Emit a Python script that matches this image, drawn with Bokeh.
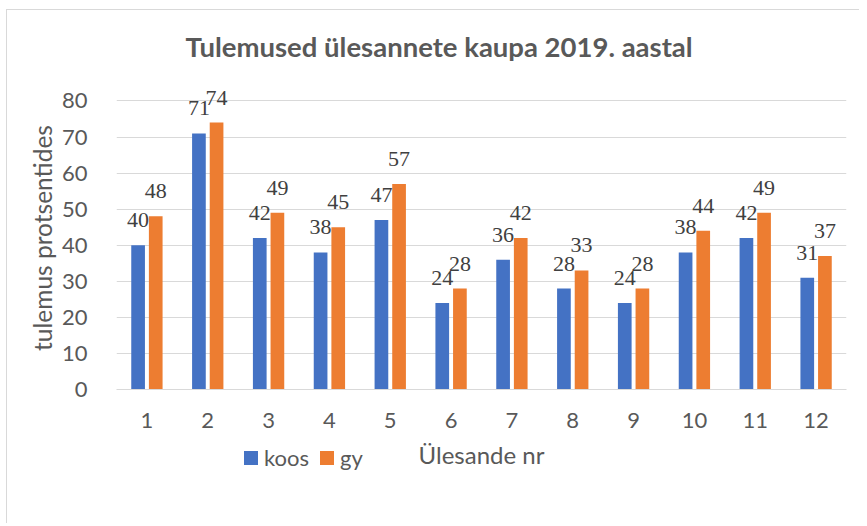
from bokeh.plotting import figure
from bokeh.layouts import column
from bokeh.models import (ColumnDataSource, Range1d, FactorRange, LabelSet, FixedTicker, Div)
from bokeh.transform import dodge
from bokeh.embed import file_html
from bokeh.resources import INLINE

# ---- data ----
categories = [str(i) for i in range(1, 13)]
koos = [40, 71, 42, 38, 47, 24, 36, 28, 24, 38, 42, 31]
gy = [48, 74, 49, 45, 57, 28, 42, 33, 28, 44, 49, 37]
y_ticks = [0, 10, 20, 30, 40, 50, 60, 70, 80]

title_text = "Tulemused ülesannete kaupa 2019. aastal"
y_title = "tulemus protsentides"
x_title = "Ülesande nr"
series_names = ["koos", "gy"]

BLUE = "#4472C4"
ORANGE = "#ED7D31"
TEXT = "#595959"
LABEL = "#404040"
GRID = "#D9D9D9"
FONT = "Lato"

src = ColumnDataSource(dict(
    cat=categories, koos=koos, gy=gy,
    koos_txt=[str(v) for v in koos], gy_txt=[str(v) for v in gy],
))

p = figure(
    width=852, height=514,
    x_range=FactorRange(*categories), y_range=Range1d(0, 84),
    output_backend="svg", toolbar_location=None,
    min_border_left=109, min_border_right=13,
    min_border_top=83, min_border_bottom=128,
    margin=(-7, 0, 0, 0),
)
p.outline_line_color = None
p.background_fill_color = "white"
p.border_fill_color = None

# title
p.title.text = title_text
p.title.align = "left"
p.title.offset = 69
p.title.text_font = FONT
p.title.text_font_size = "27.5px"
p.title.text_font_style = "bold"
p.title.text_color = TEXT
p.title.standoff = 47

w = 0.225
r1 = p.vbar(x=dodge("cat", -0.145, range=p.x_range), top="koos", width=w,
            source=src, color=BLUE, line_color=None)
r2 = p.vbar(x=dodge("cat", 0.145, range=p.x_range), top="gy", width=w,
            source=src, color=ORANGE, line_color=None)

for col, off in (("koos", -0.145), ("gy", 0.145)):
    ls = LabelSet(x=dodge("cat", off, range=p.x_range), y=col, text=col + "_txt",
                  source=src, text_align="center", text_baseline="alphabetic",
                  y_offset=18, text_font=FONT, text_font_size="22px",
                  text_color=LABEL)
    p.add_layout(ls)

# y axis
p.yaxis.ticker = FixedTicker(ticks=y_ticks)
p.yaxis.axis_line_color = None
p.yaxis.major_tick_line_color = None
p.yaxis.minor_tick_line_color = None
p.yaxis.major_label_standoff = 23
p.yaxis.major_label_text_font = FONT
p.yaxis.major_label_text_font_size = "22px"
p.yaxis.major_label_text_color = TEXT
p.yaxis.axis_label = y_title
p.yaxis.axis_label_text_font = FONT
p.yaxis.axis_label_text_font_size = "24.5px"
p.yaxis.axis_label_text_font_style = "normal"
p.yaxis.axis_label_text_color = TEXT
p.yaxis.axis_label_standoff = 2

p.ygrid.ticker = FixedTicker(ticks=y_ticks)
p.ygrid.grid_line_color = GRID
p.ygrid.grid_line_width = 1
p.xgrid.grid_line_color = None

# x axis
p.xaxis.axis_line_color = GRID
p.xaxis.axis_line_width = 1
p.xaxis.major_tick_line_color = None
p.xaxis.minor_tick_line_color = None
p.xaxis.major_label_standoff = 17
p.xaxis.major_label_text_font = FONT
p.xaxis.major_label_text_font_size = "22px"
p.xaxis.major_label_text_color = TEXT
p.xaxis.axis_label = x_title
p.xaxis.axis_label_text_font = FONT
p.xaxis.axis_label_text_font_size = "24px"
p.xaxis.axis_label_text_font_style = "normal"
p.xaxis.axis_label_text_color = TEXT
p.xaxis.axis_label_standoff = 9
p.x_range.range_padding = 0

# legend row (series colour keys)
def key(color, name, left):
    return (f'<span style="display:inline-block;width:14px;height:14px;'
            f'background:{color};margin-left:{left}px;margin-right:6px;"></span>'
            f'<span>{name}</span>')

legend_html = (
    f'<div style="display:flex;align-items:center;height:30px;font-family:{FONT};'
    f'font-size:22px;color:{TEXT};white-space:nowrap;">'
    + key(BLUE, series_names[0], 0) + key(ORANGE, series_names[1], 11) + '</div>'
)
legend_div = Div(text=legend_html, width=160, height=30, margin=(-74, 0, 50, 237))

layout = column(p, legend_div, spacing=0, margin=(9, 0, 0, 6),
                styles={"border-left": "1px solid #D9D9D9",
                        "border-top": "1px solid #D9D9D9"})

open("out.html", "w").write(file_html(layout, INLINE))
